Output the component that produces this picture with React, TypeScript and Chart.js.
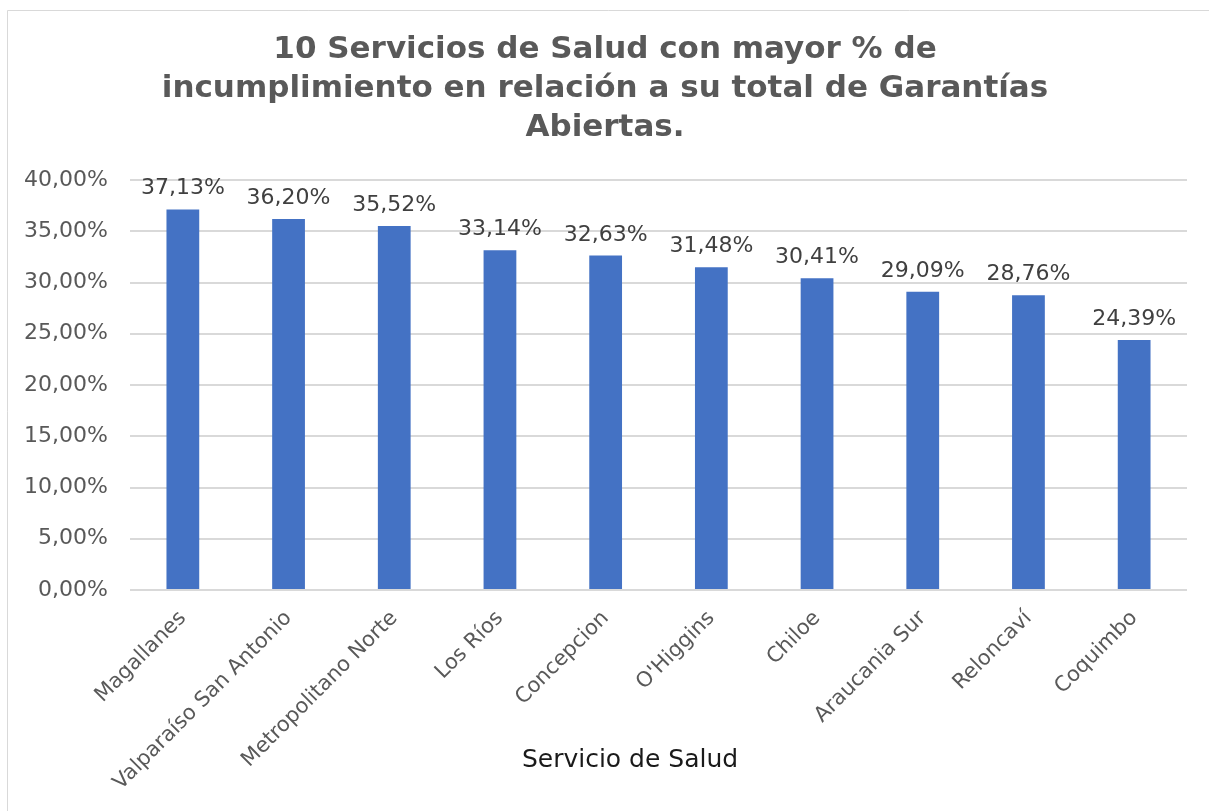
import React, { useEffect, useRef } from "react";
import { Chart, registerables } from "chart.js";

Chart.register(...registerables);

const categories = [
  "Magallanes",
  "Valparaíso San Antonio",
  "Metropolitano Norte",
  "Los Ríos",
  "Concepcion",
  "O'Higgins",
  "Chiloe",
  "Araucania Sur",
  "Reloncaví",
  "Coquimbo",
];
const values = [37.13, 36.2, 35.52, 33.14, 32.63, 31.48, 30.41, 29.09, 28.76, 24.39];
const titleLines = [
  "10 Servicios de Salud con mayor % de",
  "incumplimiento en relación a su total de Garantías",
  "Abiertas.",
];
const xTitle = "Servicio de Salud";
const yMin = 0;
const yMax = 40;
const yStep = 5;

const fmt = (v: number) => v.toFixed(2).replace(".", ",") + "%";
const FONT = "'DejaVu Sans', Verdana, sans-serif";

const framePlugin = {
  id: "frame",
  beforeDraw(chart: any) {
    const ctx = chart.ctx;
    ctx.save();
    ctx.fillStyle = "#ffffff";
    ctx.fillRect(0, 0, chart.width, chart.height);
    ctx.strokeStyle = "#d9d9d9";
    ctx.lineWidth = 1;
    ctx.beginPath();
    ctx.moveTo(7.5, chart.height + 5);
    ctx.lineTo(7.5, 10.5);
    ctx.lineTo(chart.width + 5, 10.5);
    ctx.stroke();
    ctx.restore();
  },
};

const textPlugin = {
  id: "texts",
  afterDatasetsDraw(chart: any) {
    const ctx = chart.ctx;
    const meta = chart.getDatasetMeta(0);
    ctx.save();
    // value labels
    ctx.font = `22px ${FONT}`;
    ctx.fillStyle = "#404040";
    ctx.textAlign = "center";
    ctx.textBaseline = "alphabetic";
    meta.data.forEach((bar: any, i: number) => {
      ctx.fillText(fmt(values[i]), bar.x, bar.y - 15);
    });
    // chart title
    ctx.font = `bold 31px ${FONT}`;
    ctx.fillStyle = "#595959";
    ctx.textBaseline = "middle";
    titleLines.forEach((line, i) => {
      ctx.fillText(line, 605, 50 + i * 39);
    });
    // x axis title
    ctx.font = `25px ${FONT}`;
    ctx.fillStyle = "#1a1a1a";
    ctx.fillText(xTitle, 630, 760);
    ctx.restore();
  },
};

export default function App() {
  const ref = useRef<HTMLCanvasElement | null>(null);
  useEffect(() => {
    if (!ref.current) return;
    const chart = new Chart(ref.current, {
      type: "bar",
      data: {
        labels: categories,
        datasets: [
          {
            data: values,
            backgroundColor: "#4472C4",
            borderWidth: 0,
            barPercentage: 0.62,
            categoryPercentage: 0.5,
          },
        ],
      },
      options: {
        responsive: false,
        animation: false,
        layout: { padding: { left: 0, right: 22, top: 180, bottom: 0 } },
        plugins: {
          legend: { display: false },
          tooltip: { enabled: false },
          title: { display: false },
        },
        scales: {
          x: {
            grid: { display: false, drawTicks: false },
            border: { display: false },
            ticks: {
              color: "#595959",
              font: { family: FONT, size: 21 },
              maxRotation: 45,
              minRotation: 45,
              autoSkip: false,
              padding: 16,
            },
            afterFit(scale: any) {
              scale.height = 221;
            },
          },
          y: {
            min: yMin,
            max: yMax,
            grid: { color: "#d9d9d9", lineWidth: 2, drawTicks: false },
            border: { display: false },
            ticks: {
              stepSize: yStep,
              color: "#595959",
              font: { family: FONT, size: 22 },
              padding: 22,
              callback: (v: any) => fmt(Number(v)),
            },
            afterFit(scale: any) {
              scale.width = 130;
            },
          },
        },
      },
      plugins: [framePlugin, textPlugin],
    } as any);
    return () => chart.destroy();
  }, []);
  return (
    <div style={{ position: "fixed", left: 0, top: 0, width: 1209, height: 811, background: "#fff" }}>
      <canvas ref={ref} width={1209} height={811} style={{ display: "block" }} />
    </div>
  );
}
